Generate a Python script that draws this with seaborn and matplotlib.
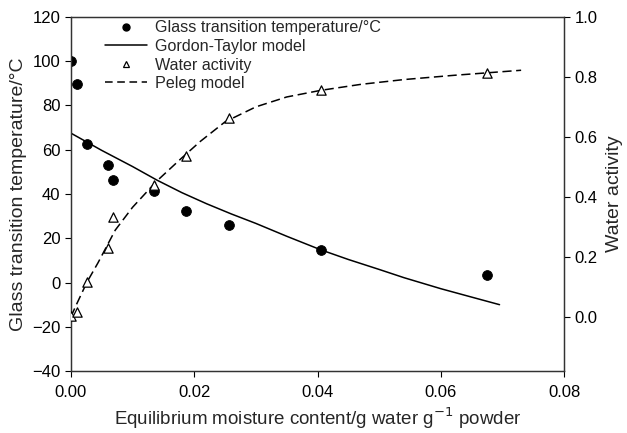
import matplotlib
matplotlib.use("Agg")
import matplotlib.pyplot as plt
import seaborn as sns
import pandas as pd
from matplotlib.lines import Line2D

# measured points (same moisture contents for both series)
moisture = [0.000, 0.0010, 0.0026, 0.0061, 0.0069, 0.0135, 0.0187, 0.0256, 0.0406, 0.0675]
tg_obs = [100.0, 89.5, 62.5, 53.0, 46.5, 41.2, 32.3, 25.8, 14.6, 3.4]
aw_obs = [0.004, 0.015, 0.115, 0.230, 0.333, 0.440, 0.535, 0.663, 0.757, 0.814]

# Gordon-Taylor fitted curve
gt_x = [0.000, 0.005, 0.010, 0.014, 0.018, 0.022, 0.026, 0.030, 0.035,
        0.0405, 0.045, 0.050, 0.054, 0.060, 0.065, 0.0695]
gt_y = [67.5, 59.7, 52.4, 46.2, 40.6, 35.6, 31.0, 26.7, 20.9,
        14.8, 10.4, 5.9, 2.2, -2.8, -6.6, -10.0]

# Peleg fitted curve
pel_x = [0.000, 0.001, 0.0026, 0.0044, 0.0072, 0.010, 0.0139, 0.018, 0.021,
         0.025, 0.030, 0.035, 0.0405, 0.047, 0.054, 0.062, 0.073]
pel_y = [0.000, 0.045, 0.115, 0.180, 0.289, 0.365, 0.452, 0.530, 0.585,
         0.650, 0.700, 0.733, 0.755, 0.775, 0.791, 0.805, 0.822]

sns.set_style("ticks")
plt.rcParams["font.family"] = ["Liberation Sans", "DejaVu Sans"]

fig, ax = plt.subplots(figsize=(6.27, 4.33), dpi=100)
fig.subplots_adjust(left=0.113, right=0.9, top=0.961, bottom=0.143)
ax2 = ax.twinx()

obs = pd.DataFrame({"x": moisture, "tg": tg_obs, "aw": aw_obs})

sns.lineplot(x=gt_x, y=gt_y, ax=ax, color="black", lw=1.1)
sns.scatterplot(data=obs, x="x", y="tg", ax=ax, color="black", s=50,
                marker="o", edgecolor="black", zorder=5)

sns.lineplot(x=pel_x, y=pel_y, ax=ax2, color="black", lw=1.1)
ax2.lines[0].set_dashes((6, 3))
sns.scatterplot(data=obs, x="x", y="aw", ax=ax2, marker="^", s=45,
                facecolor="white", edgecolor="black", linewidth=0.9, zorder=5)

ax.set_xlim(0, 0.08)
ax.set_ylim(-40, 120)
ax2.set_ylim(-0.181, 1.0)
ax.set_xticks([0, 0.02, 0.04, 0.06, 0.08])
ax.set_xticklabels(["0.00", "0.02", "0.04", "0.06", "0.08"])
ax.set_yticks(range(-40, 121, 20))
ax.set_yticklabels([str(v).replace("-", "\u2212") for v in range(-40, 121, 20)])
ax2.set_yticks([0.0, 0.2, 0.4, 0.6, 0.8, 1.0])

for a in (ax, ax2):
    a.tick_params(labelsize=12, length=4, width=0.8, direction="out", colors="black")
    for s in a.spines.values():
        s.set_linewidth(0.9)
        s.set_color("#333333")
ax.tick_params(axis="x", pad=6)

ax.set_xlabel("Equilibrium moisture content/g water g$^{-1}$ powder",
              fontsize=13.5, labelpad=4)
ax.set_ylabel("Glass transition temperature/°C", fontsize=14, labelpad=4)
ax2.set_ylabel("Water activity", fontsize=14, labelpad=6)
ax2.set_xlabel("")

handles = [
    Line2D([], [], color="black", marker="o", ls="none", markersize=5),
    Line2D([], [], color="black", lw=1.1),
    Line2D([], [], color="black", marker="^", ls="none", markersize=5,
           markerfacecolor="white", markeredgewidth=0.9),
    Line2D([], [], color="black", lw=1.1, dashes=(5, 3)),
]
labels = ["Glass transition temperature/°C", "Gordon-Taylor model",
          "Water activity", "Peleg model"]
ax2.legend(handles, labels, loc="upper left", bbox_to_anchor=(0.069, 0.99),
           frameon=False, fontsize=11.6, handlelength=2.6, labelspacing=0.22,
           borderaxespad=0, borderpad=0, handletextpad=0.5)

fig.savefig("out.png", dpi=100)
